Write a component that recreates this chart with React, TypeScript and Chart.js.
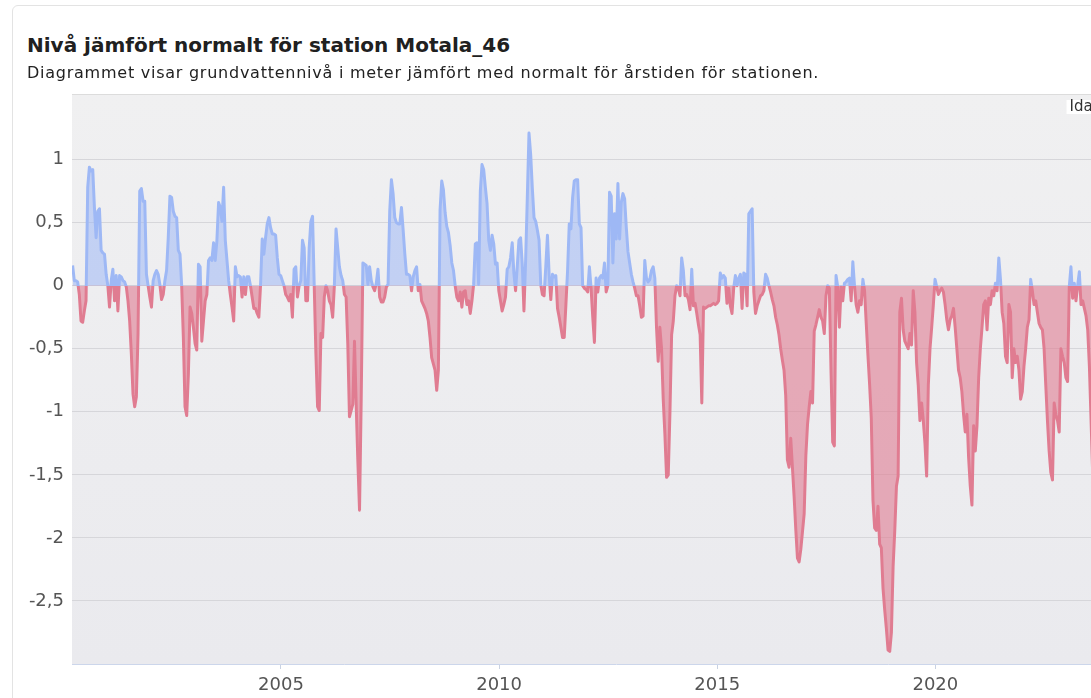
import { useEffect, useRef } from 'react';
import { Chart, registerables } from 'chart.js';

Chart.register(...registerables);

const TITLE = 'Nivå jämfört normalt för station Motala_46';
const SUBTITLE = 'Diagrammet visar grundvattennivå i meter jämfört med normalt för årstiden för stationen.';
const TODAY_LABEL = 'Idag';
const TODAY_YEAR = 2024.1;

// biweekly samples (decimal years)
const START_YEAR = 2000.224;
const STEP_YEARS = 1 / 26;

// groundwater level relative to normal (m)
const levels = [
  0.16, 0.04, 0.04, 0.03, -0.07, -0.28, -0.29, -0.2, -0.12, 0.78,
  0.94, 0.91, 0.92, 0.62, 0.38, 0.59, 0.61, 0.28, 0.26, 0.25,
  0.09, 0.0, -0.17, 0.04, 0.13, -0.12, 0.08, -0.2, 0.08, 0.07,
  0.04, 0.03, -0.01, -0.12, -0.28, -0.54, -0.86, -0.96, -0.88, -0.38,
  0.75, 0.77, 0.67, 0.67, 0.09, 0.0, -0.09, -0.17, 0.04, 0.09,
  0.12, 0.09, 0.01, -0.11, -0.07, 0.04, 0.12, 0.38, 0.71, 0.7,
  0.59, 0.55, 0.54, 0.28, 0.25, 0.0, -0.41, -0.96, -1.03, -0.7,
  -0.17, -0.22, -0.33, -0.46, -0.51, 0.17, 0.15, -0.44, -0.28, -0.12,
  -0.07, 0.2, 0.22, 0.2, 0.34, 0.2, 0.36, 0.66, 0.62, 0.51,
  0.78, 0.36, 0.2, 0.04, -0.07, -0.17, -0.28, 0.15, 0.07, 0.08,
  0.07, -0.09, 0.07, -0.07, 0.07, 0.07, 0.0, -0.09, -0.18, -0.18,
  -0.22, -0.25, 0.0, 0.37, 0.25, 0.38, 0.49, 0.54, 0.46, 0.41,
  0.41, 0.4, 0.22, 0.09, 0.08, 0.04, 0.0, -0.07, -0.09, -0.12,
  -0.07, -0.25, 0.13, 0.15, -0.09, 0.0, 0.04, 0.36, 0.3, -0.12,
  -0.12, 0.3, 0.51, 0.55, 0.0, -0.54, -0.96, -0.99, -0.38, -0.41,
  -0.09, 0.0,
  // 2006 -
  -0.04, -0.12, -0.15, -0.25, 0.0, 0.45, 0.3, 0.15, 0.08, 0.04,
  -0.07, -0.09, -0.46, -1.04, -0.99, -0.94, -0.44, -0.94, -1.39, -1.78,
  -0.9, 0.18, 0.17, 0.16, 0.01, 0.15, 0.04, -0.01, -0.04, 0.02,
  0.13, -0.09, -0.13, -0.13, -0.09, -0.01, 0.01, 0.59, 0.84, 0.73,
  0.54, 0.5, 0.49, 0.49, 0.62, 0.44, 0.25, 0.09, 0.09, 0.08,
  -0.04, 0.07, 0.12, 0.15, -0.04, 0.01, -0.12, -0.15, -0.18, -0.22,
  -0.28, -0.41, -0.57, -0.62, -0.67, -0.83, -0.67, 0.6, 0.83, 0.76,
  0.58, 0.47, 0.42, 0.32, 0.18, 0.12, 0.0, -0.09, -0.12, -0.05,
  -0.17, -0.05, -0.04, -0.15, -0.12, -0.22, -0.12, 0.01, 0.33, 0.34,
  0.01, 0.75, 0.96, 0.92, 0.78, 0.65, 0.36, 0.28, 0.4, 0.33,
  0.17, 0.18, -0.04, -0.12, -0.2, -0.15, -0.09, 0.13, 0.15, 0.22,
  0.34, 0.1, -0.04, 0.15, 0.36, 0.38, 0.17, -0.2, 0.2, 0.7,
  1.21, 1.04, 0.77, 0.54, 0.51, 0.44, 0.36, 0.01, -0.07, -0.08,
  0.15, 0.4, 0.09, -0.11, 0.09, 0.07, 0.08, -0.18, -0.25, -0.33,
  -0.41, -0.41, -0.15, 0.12, 0.49, 0.45, 0.7, 0.83, 0.84, 0.84,
  0.49,
  // 2011 -
  0.46, 0.0, -0.02, -0.03, -0.05, 0.15, -0.02, -0.25, -0.45, 0.06,
  -0.05, 0.06, 0.08, 0.06, 0.18, -0.05, 0.0, 0.74, 0.71, 0.18,
  0.57, 0.37, 0.81, 0.37, 0.66, 0.73, 0.69, 0.46, 0.27, 0.18,
  0.09, 0.03, -0.02, -0.08, -0.08, -0.16, -0.25, -0.24, 0.2, 0.06,
  0.03, 0.05, 0.12, 0.15, 0.06, -0.33, -0.6, -0.33, -0.5, -0.9,
  -1.18, -1.52, -1.5, -1.01, -0.39, -0.28, -0.08, 0.0, -0.02, -0.08,
  0.22, 0.12, -0.08, -0.07, -0.11, -0.19, 0.13, -0.16, -0.14, -0.22,
  -0.31, -0.39, -0.93, -0.17, -0.18, -0.17, -0.16, -0.16, -0.15, -0.14,
  -0.15, -0.14, -0.12, 0.1, 0.06, 0.08, 0.06, -0.14, -0.02, -0.16,
  -0.22, -0.02, 0.08, 0.0, 0.06, 0.09, -0.18, 0.1, 0.09, -0.16,
  0.57, 0.59, 0.61, -0.05, -0.22, -0.16, -0.12, -0.08, -0.07, -0.04,
  0.09, 0.06, 0.0, -0.05, -0.11, -0.16, -0.25, -0.31, -0.39, -0.5,
  -0.59, -0.67, -0.87, -1.38, -1.44, -1.21, -1.44, -1.67, -1.93, -2.16,
  -2.19, -2.09, -1.95, -1.81, -1.35, -1.1, -0.96, -0.84, -0.93, -0.36,
  -0.31, -0.25, -0.19, -0.25, -0.28, -0.38, -0.08, 0.0, -0.02, -0.67,
  -1.24, -1.27,
  // 2017 -
  0.08, -0.01, -0.33, -0.01, -0.12, 0.02, 0.03, 0.05, 0.06, -0.12,
  0.19, 0.0, -0.15, -0.21, -0.12, -0.15, 0.05, -0.04, -0.3, -0.55,
  -0.78, -1.05, -1.7, -1.92, -1.94, -1.75, -2.05, -2.08, -2.4, -2.57,
  -2.72, -2.89, -2.9, -2.75, -2.23, -1.94, -1.59, -1.51, -0.21, -0.1,
  -0.35, -0.44, -0.47, -0.5, -0.38, -0.47, -0.04, -0.21, -0.61, -0.79,
  -1.07, -0.93, -1.07, -1.25, -1.51, -0.79, -0.5, -0.33, -0.15, 0.05,
  -0.01, -0.07, -0.04, -0.02, -0.05, -0.15, -0.27, -0.35, -0.27, -0.24,
  -0.18, -0.33, -0.5, -0.67, -0.73, -0.84, -1.02, -1.16, -1.02, -1.36,
  -1.59, -1.74, -1.11, -1.31, -1.11, -0.73, -0.5, -0.33, -0.15, -0.12,
  -0.35, -0.1, -0.15, -0.04, -0.08, 0.02, -0.04, 0.22, 0.05, -0.21,
  -0.3, -0.56, -0.61, -0.15, -0.21, -0.73, -0.5, -0.61, -0.56, -0.67,
  -0.9, -0.84, -0.64, -0.5, -0.33, -0.27, 0.05, -0.04, -0.15, -0.12,
  -0.21, -0.3, -0.33, -0.35, -0.5, -0.79, -1.07, -1.31, -1.48, -1.54,
  -0.93, -1.02, -1.07, -1.16, -0.5, -0.56, -0.61, -0.73, -0.76, -0.01,
  0.15, -0.1, 0.02, -0.12, 0.0, 0.11, -0.15, -0.12, -0.18, -0.24,
  -0.35, -0.64, -1.07, -1.51, -1.6,
];

const xTicks = [2005, 2010, 2015, 2020];
const yTicks = [-2.5, -2, -1.5, -1, -0.5, 0, 0.5, 1];

const X_MIN = 2000.21;
const X_MAX = 2025.15;
const Y_MIN = -3;
const Y_MAX = 1.52;

const BLUE_LINE = 'rgb(158,184,245)';
const BLUE_FILL = 'rgba(158,184,245,0.55)';
const RED_LINE = 'rgb(224,124,145)';
const RED_FILL = 'rgba(224,124,145,0.6)';
const FONT = "'DejaVu Sans', sans-serif";

const plotBackground = {
  id: 'plotBackground',
  beforeDraw(chart: any) {
    const { ctx, chartArea: a } = chart;
    ctx.save();
    const g = ctx.createLinearGradient(0, a.top, 0, a.bottom);
    g.addColorStop(0, '#f0f0f1');
    g.addColorStop(1, '#eaeaee');
    ctx.fillStyle = g;
    ctx.fillRect(a.left, a.top, a.right - a.left, a.bottom - a.top);
    ctx.strokeStyle = '#dcdcdc';
    ctx.lineWidth = 1;
    ctx.beginPath();
    ctx.moveTo(a.left, a.top + 0.5);
    ctx.lineTo(a.right, a.top + 0.5);
    ctx.stroke();
    ctx.restore();
  },
};

const todayMarker = {
  id: 'todayMarker',
  afterDatasetsDraw(chart: any) {
    const { ctx, chartArea: a, scales } = chart;
    const x = scales.x.getPixelForValue(TODAY_YEAR);
    ctx.save();
    ctx.strokeStyle = '#999';
    ctx.lineWidth = 1;
    ctx.beginPath();
    ctx.moveTo(x + 0.5, a.top);
    ctx.lineTo(x + 0.5, a.bottom);
    ctx.stroke();
    ctx.font = `15px ${FONT}`;
    const w = ctx.measureText(TODAY_LABEL).width;
    const right = x - 12;
    const y = a.top + 13;
    ctx.fillStyle = '#ffffff';
    ctx.fillRect(right - w - 3, y - 7, w + 6, 14);
    ctx.fillStyle = '#333333';
    ctx.textAlign = 'right';
    ctx.textBaseline = 'middle';
    ctx.fillText(TODAY_LABEL, right, y);
    ctx.restore();
  },
};

function splitLineColor(context: any) {
  const chart = context.chart;
  const a = chart.chartArea;
  if (!a) return BLUE_LINE;
  const y0 = chart.scales.y.getPixelForValue(0);
  const s = Math.min(1, Math.max(0, (y0 - a.top) / (a.bottom - a.top)));
  const g = chart.ctx.createLinearGradient(0, a.top, 0, a.bottom);
  g.addColorStop(0, BLUE_LINE);
  g.addColorStop(s, BLUE_LINE);
  g.addColorStop(s, RED_LINE);
  g.addColorStop(1, RED_LINE);
  return g;
}

export default function App() {
  const canvasRef = useRef<HTMLCanvasElement | null>(null);

  useEffect(() => {
    const canvas = canvasRef.current;
    if (!canvas) return;
    const points = levels.map((v, i) => ({ x: START_YEAR + i * STEP_YEARS, y: v }));
    const chart = new Chart(canvas, {
      type: 'line',
      data: {
        datasets: [
          {
            data: points,
            borderColor: splitLineColor,
            borderWidth: 3,
            pointRadius: 0,
            pointHoverRadius: 0,
            tension: 0,
            borderJoinStyle: 'round',
            fill: { target: 'origin', above: BLUE_FILL, below: RED_FILL },
          } as any,
        ],
      },
      options: {
        animation: false,
        responsive: false,
        layout: { padding: { top: 30, left: 0, right: 0, bottom: 0 } },
        plugins: { legend: { display: false }, tooltip: { enabled: false } },
        scales: {
          x: {
            type: 'linear',
            min: X_MIN,
            max: X_MAX,
            afterBuildTicks: (s: any) => {
              s.ticks = xTicks.map((v) => ({ value: v }));
            },
            afterFit: (s: any) => {
              s.height = 34;
            },
            ticks: {
              callback: (v: any) => String(v),
              color: '#555555',
              font: { family: FONT, size: 18 },
              padding: 6,
              maxRotation: 0,
              autoSkip: false,
            },
            grid: { drawOnChartArea: false, drawTicks: true, tickLength: 5, tickColor: '#c9d2e2' },
            border: { display: true, color: '#ccd6eb', width: 1 },
          },
          y: {
            type: 'linear',
            min: Y_MIN,
            max: Y_MAX,
            afterBuildTicks: (s: any) => {
              s.ticks = yTicks.map((v) => ({ value: v }));
            },
            afterFit: (s: any) => {
              s.width = 72;
            },
            ticks: {
              callback: (v: any) => String(v).replace('.', ','),
              color: '#555555',
              font: { family: FONT, size: 18 },
              padding: 8,
            },
            grid: { color: '#d6d6da', lineWidth: 1, drawTicks: false },
            border: { display: false },
          },
        },
      } as any,
      plugins: [plotBackground, todayMarker],
    });
    return () => chart.destroy();
  }, []);

  return (
    <div
      style={{
        position: 'fixed',
        left: 0,
        top: 0,
        width: 1091,
        height: 698,
        overflow: 'hidden',
        background: '#ffffff',
        fontFamily: FONT,
      }}
    >
      <div
        style={{
          position: 'absolute',
          left: 12,
          top: 5,
          width: 1200,
          height: 800,
          border: '1px solid #e3e3e3',
          borderRadius: 6,
          boxSizing: 'border-box',
        }}
      />
      <canvas
        ref={canvasRef}
        width={1160}
        height={634}
        style={{ position: 'absolute', left: 0, top: 64, width: 1160, height: 634 }}
      />
      <div
        style={{
          position: 'absolute',
          left: 27,
          top: 33,
          fontSize: 20,
          lineHeight: '24px',
          fontWeight: 700,
          color: '#202020',
          whiteSpace: 'nowrap',
        }}
      >
        {TITLE}
      </div>
      <div
        style={{
          position: 'absolute',
          left: 27,
          top: 63,
          fontSize: 16,
          lineHeight: '20px',
          letterSpacing: '0.75px',
          color: '#222222',
          whiteSpace: 'nowrap',
        }}
      >
        {SUBTITLE}
      </div>
    </div>
  );
}
